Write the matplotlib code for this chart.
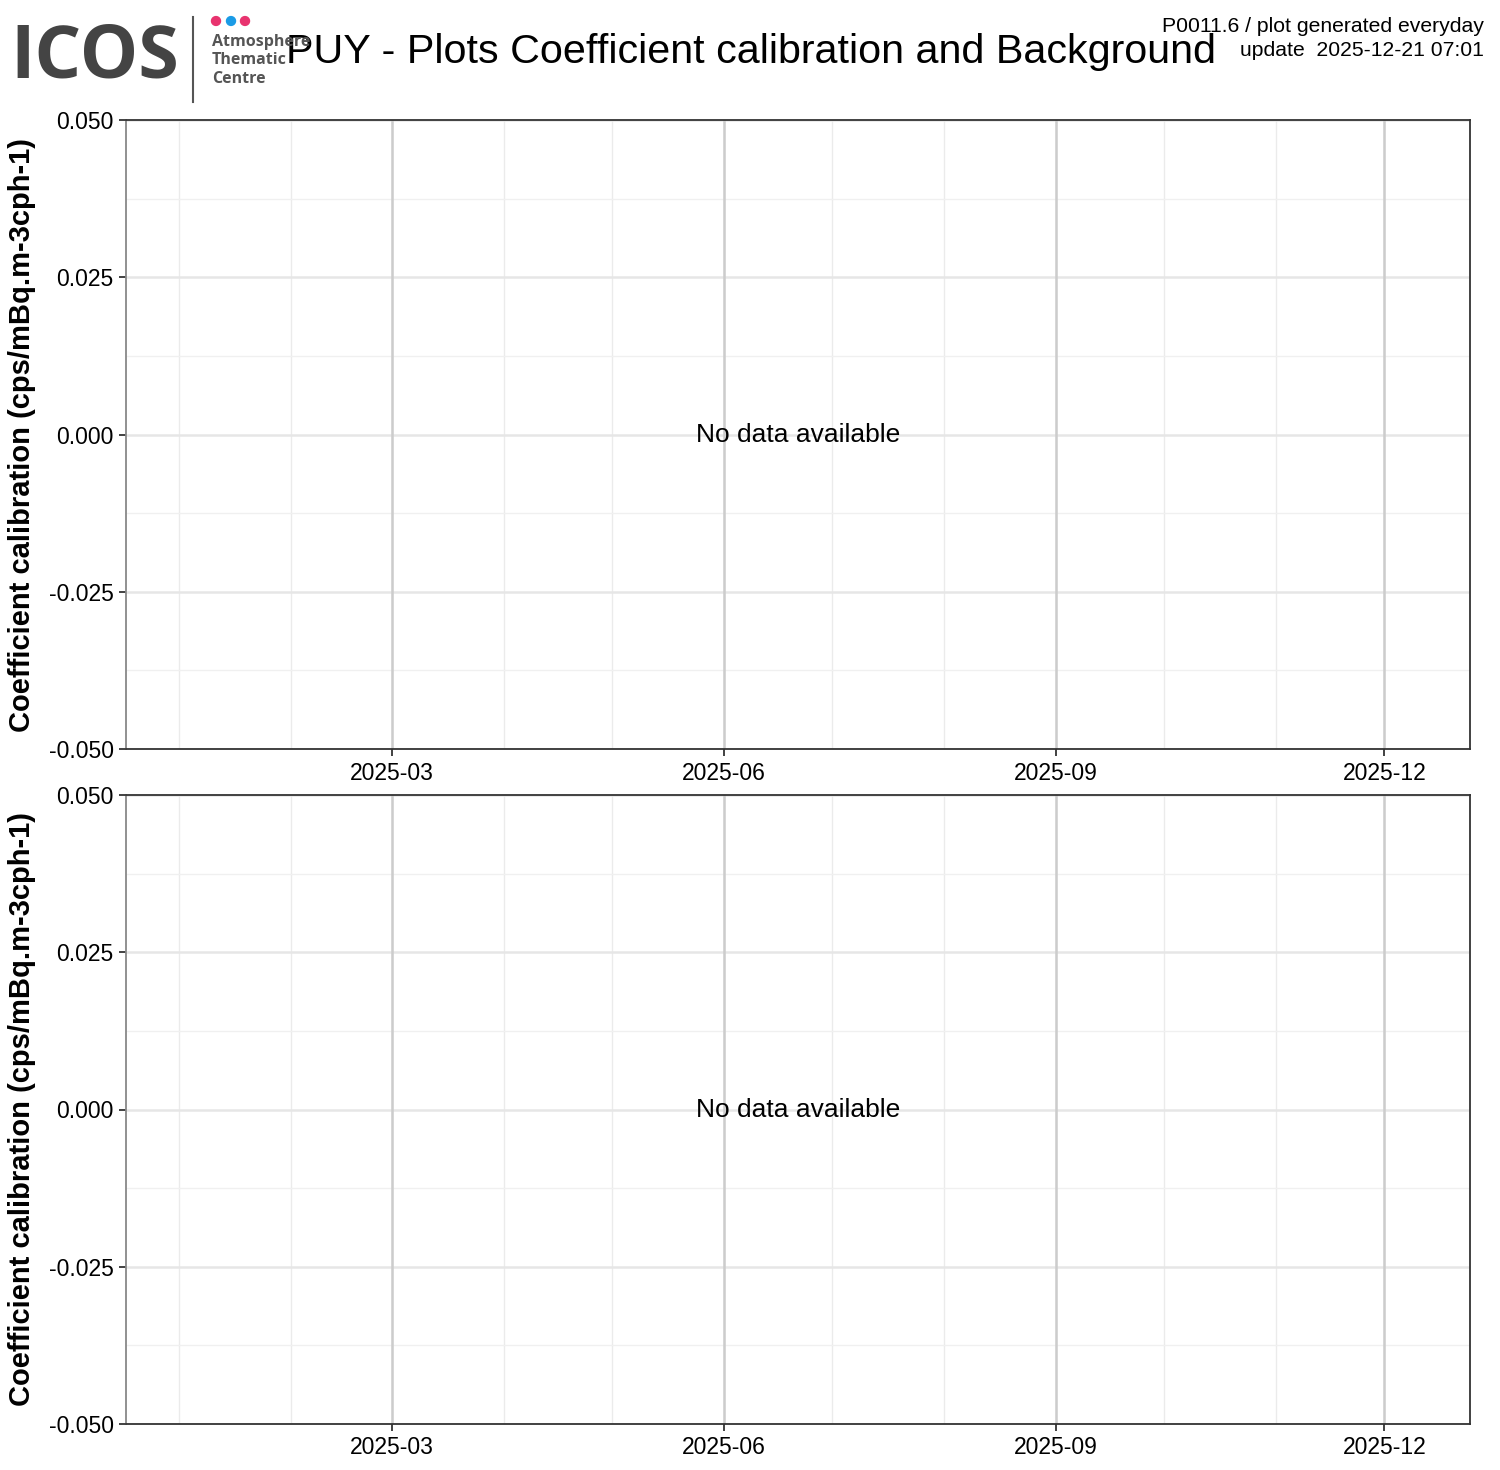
import matplotlib
matplotlib.use("Agg")
import matplotlib.pyplot as plt
from matplotlib.patches import Circle
from matplotlib.lines import Line2D
import datetime as dt

plt.rcParams['font.family'] = ['Liberation Sans', 'DejaVu Sans']

# ---- data (no data available in both panels) ----
title = "PUY - Plots Coefficient calibration and Background"
info_lines = ["P0011.6 / plot generated everyday", "update  2025-12-21 07:01"]
ylabel = "Coefficient calibration (cps/mBq.m-3cph-1)"
panel_dates = [[], []]
panel_values = [[], []]
x_start = dt.datetime(2024, 12, 17, 7)
x_end = dt.datetime(2025, 12, 24, 17)
y_ticks = [-0.050, -0.025, 0.000, 0.025, 0.050]
y_ticklabels = ["-0.050", "-0.025", "0.000", "0.025", "0.050"]
major_dates = [dt.datetime(2025, 3, 1), dt.datetime(2025, 6, 1),
               dt.datetime(2025, 9, 1), dt.datetime(2025, 12, 1)]
major_labels = ["2025-03", "2025-06", "2025-09", "2025-12"]
minor_dates = [dt.datetime(2025, m, 1) for m in range(1, 13)]
y_minor = [-0.0375, -0.0125, 0.0125, 0.0375]

W, H = 1500, 1470
fig = plt.figure(figsize=(W / 100, H / 100), dpi=100)


def px_axes(x0, y0, x1, y1):
    return fig.add_axes([x0 / W, 1 - y1 / H, (x1 - x0) / W, (y1 - y0) / H])


panels = [(126, 120, 1470, 749), (126, 795, 1470, 1424)]
for i, (x0, y0, x1, y1) in enumerate(panels):
    ax = px_axes(x0, y0, x1, y1)
    ax.plot(panel_dates[i], panel_values[i], color="black")
    ax.set_xlim(x_start, x_end)
    ax.set_ylim(-0.05, 0.05)
    # minor grid
    for d in minor_dates:
        ax.axvline(d, color="#ebebeb", lw=1.0, zorder=0)
    for yv in y_minor:
        ax.axhline(yv, color="#f0f0f0", lw=1.0, zorder=0)
    # major grid
    for yv in y_ticks:
        ax.axhline(yv, color="#e6e6e6", lw=1.8, zorder=0)
    for d in major_dates:
        ax.axvline(d, color="#cccccc", lw=1.8, zorder=0)
    ax.set_xticks(major_dates)
    ax.set_xticklabels(major_labels)
    ax.set_yticks(y_ticks)
    ax.set_yticklabels(y_ticklabels)
    ax.tick_params(axis="both", labelsize=16.5, length=5, width=1.3,
                   color="#333333", labelcolor="black", pad=4)
    for s in ax.spines.values():
        s.set_color("#333333")
        s.set_linewidth(1.3)
    ax.spines["left"].set_color("#888888")
    ax.set_ylabel(ylabel, fontsize=21, fontweight="bold", labelpad=9)
    ax.text(0.5, 0.4985, "No data available", transform=ax.transAxes,
            ha="center", va="center", fontsize=19)

# ---- header ----
fig.text(751 / W, 1 - 63 / H, title, ha="center", va="baseline",
         fontsize=29.7)
for k, line in enumerate(info_lines):
    fig.text(1484 / W, 1 - (32 + 24 * k) / H, line, ha="right",
             va="baseline", fontsize=15.2)

# ICOS logo drawn as text
fig.text(10 / W, 1 - 59 / H, "ICOS", ha="left", va="center",
         fontsize=53, fontweight="bold", color="#444444",
         family=["Open Sans", "DejaVu Sans"])
fig.add_artist(Line2D([193 / W, 193 / W], [1 - 17 / H, 1 - 102 / H],
                      transform=fig.transFigure, color="#555555", lw=1.5))
for cx, col in [(216, "#e8336f"), (231, "#1a9be6"), (245, "#e8336f")]:
    fig.add_artist(Circle((cx / W, 1 - 21 / H), 4.5 / W,
                          transform=fig.transFigure, color=col))
for j, word in enumerate(["Atmosphere", "Thematic", "Centre"]):
    fig.text(212 / W, 1 - (42 + j * 18.5) / H, word, ha="left", va="center",
             fontsize=11.5, fontweight="bold", color="#555555",
             family=["Open Sans", "DejaVu Sans"])

fig.savefig("out.png", dpi=100)
